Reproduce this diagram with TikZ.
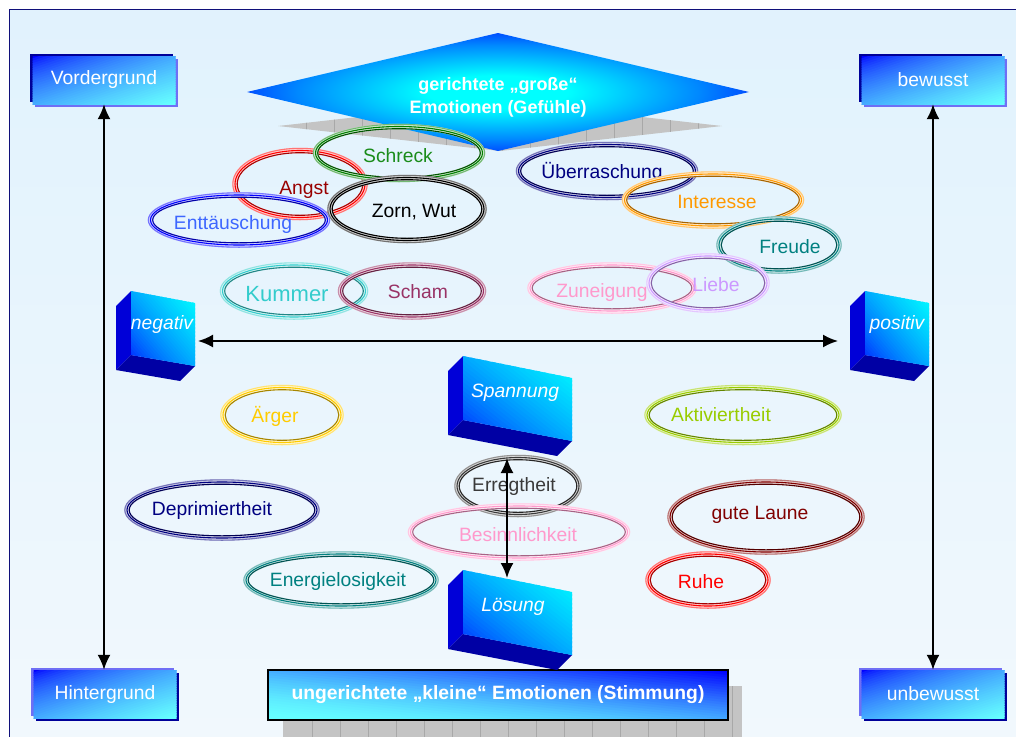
\documentclass[tikz,border=0pt]{standalone}
\usepackage{fontspec}
\setmainfont{Liberation Sans}
\usetikzlibrary{arrows.meta}

% page and frame
\definecolor{framenavy}{HTML}{10107A}
\definecolor{bgtop}{HTML}{E1F2FD}
\definecolor{bgbot}{HTML}{F1F8FD}
% boxes and blocks
\definecolor{boxblue}{HTML}{0000FF}
\definecolor{boxcyan}{HTML}{66FFFF}
\definecolor{blockcyan}{HTML}{00FFFF}
\definecolor{shadenavy}{HTML}{000099}
\definecolor{shadelilac}{HTML}{6F6FF5}
\definecolor{cubeleft}{HTML}{0000D8}
\definecolor{cubebottom}{HTML}{0000A4}
\definecolor{glowmid}{HTML}{0088FF}
\definecolor{texgray}{HTML}{C4C4C4}
\definecolor{texline}{HTML}{A8A8A8}
% emotion colours
\definecolor{cred}{HTML}{FF0000}
\definecolor{cdarkred}{HTML}{990000}
\definecolor{cgreen}{HTML}{008000}
\definecolor{cgreentxt}{HTML}{1A8C1A}
\definecolor{cblue}{HTML}{0000FF}
\definecolor{cbluetxt}{HTML}{3D66FF}
\definecolor{cnavy}{HTML}{000080}
\definecolor{corange}{HTML}{FF9900}
\definecolor{cteal}{HTML}{008080}
\definecolor{clilac}{HTML}{CC99FF}
\definecolor{cpink}{HTML}{FF99CC}
\definecolor{cturq}{HTML}{33CCCC}
\definecolor{cplum}{HTML}{993366}
\definecolor{cgold}{HTML}{FFCC00}
\definecolor{clime}{HTML}{99CC00}
\definecolor{cmaroon}{HTML}{800000}
\definecolor{cgraydark}{HTML}{3A3A3A}

\pgfdeclareradialshading{diamondglow}{\pgfpoint{0bp}{0bp}}{%
  color(0bp)=(cyan); color(7bp)=(cyan); color(20bp)=(glowmid);
  color(32bp)=(blue); color(50bp)=(blue)}

% diagonal colour ramp inside the current clip:
% corner x, corner y, width, height (signed), start colour, end colour, ramp exponent
\newcommand{\diaggrad}[7]{%
  \foreach \k in {0,...,39}{%
    \pgfmathsetmacro\gs{2*\k/40}%
    \pgfmathsetmacro\ge{2*(\k+1.5)/40}%
    \pgfmathsetmacro\gp{100*(\k/39)^(#7)}%
    \pgfmathsetmacro\gxa{#1+\gs*(#3)}%
    \pgfmathsetmacro\gxb{#1+\ge*(#3)}%
    \pgfmathsetmacro\gya{#2+\gs*(#4)}%
    \pgfmathsetmacro\gyb{#2+\ge*(#4)}%
    \fill[#6!\gp!#5] (\gxa,#2) -- (\gxb,#2) -- (#1,\gyb) -- (#1,\gya) -- cycle;}}

% triple ring around an emotion: centre x, centre y, x radius, y radius, colour
\newcommand{\emoring}[5]{%
  \draw[#5!18!white, line width=5.4pt] (#1,#2) ellipse [x radius=#3, y radius=#4];
  \draw[#5!55!white, line width=1.1pt] (#1,#2) ellipse [x radius=#3+2.2, y radius=#4+2.2];
  \draw[#5, line width=1.1pt] (#1,#2) ellipse [x radius=#3, y radius=#4];
  \draw[#5!65!black, line width=1.1pt] (#1,#2) ellipse [x radius=#3-2.2, y radius=#4-2.2];}

% corner box: centre x, centre y, upper-left plate colour, lower-right plate colour
\newcommand{\cornerback}[4]{%
  \fill[#3] (#1-74,#2-26.5) rectangle (#1+69,#2+21.5);
  \fill[#4] (#1-69,#2-21.5) rectangle (#1+74,#2+26.5);
  \begin{scope}
    \clip (#1-71.5,#2-24) rectangle (#1+71.5,#2+24);
    \diaggrad{#1-71.5}{#2-24}{143}{48}{boxblue}{boxcyan}{0.6}
  \end{scope}}

% slanted block: front top-left corner x, y, front width, drop of the top edge
\newcommand{\emocube}[4]{%
  \fill[cubeleft] (#1,#2) -- (#1,#2+64) -- (#1-15,#2+79) -- (#1-15,#2+15) -- cycle;
  \fill[cubebottom] (#1,#2+64) -- (#1+#3,#2+#4+63) -- (#1+#3-15,#2+#4+78) -- (#1-15,#2+79) -- cycle;
  \begin{scope}
    \clip (#1,#2) -- (#1+#3,#2+#4) -- (#1+#3,#2+#4+63) -- (#1,#2+64) -- cycle;
    \diaggrad{#1}{#2+#4+64}{#3}{-#4-64}{boxblue}{blockcyan}{0.6}
  \end{scope}}

\begin{document}
\begin{tikzpicture}[x=1pt,y=-1pt,
  every node/.style={inner sep=0pt, font=\fontsize{19.3}{23}\selectfont},
  corner/.style={minimum width=143pt, minimum height=48pt, text=white},
  cubelabel/.style={text=white, font=\itshape\fontsize{19.3}{23}\selectfont},
  dar/.style={{Latex[length=15pt,width=13pt]}-{Latex[length=15pt,width=13pt]}, line width=2pt},
]
\useasboundingbox (0,0) rectangle (1016,736);
\fill[white] (0,0) rectangle (1016,736);

% frame with a soft vertical ramp
\foreach \k in {0,...,24}{%
  \pgfmathsetmacro\gp{100*\k/24}%
  \fill[bgbot!\gp!bgtop] (9.5,9.5+\k*29.5) rectangle (1030,9.5+\k*29.5+31);}
\draw[framenavy, line width=1.6pt] (9.5,9.5) rectangle (1030,750);

% grey tiled plate under the diamond
\begin{scope}
  \clip (278,126) -- (500,101) -- (722,126) -- (500,151) -- cycle;
  \fill[texgray] (270,95) rectangle (730,155);
  \foreach \x in {306,334,...,720} \draw[texline, line width=0.5pt] (\x,95) -- (\x,155);
\end{scope}

% diamond for the directed emotions
\shade[shading=diamondglow] (247,92) -- (498,33) -- (749,92) -- (498,151) -- cycle;
\node[text=white, align=center, font=\bfseries\fontsize{18}{23}\selectfont] (gross) at (498,97)
  {gerichtete „große“\\Emotionen (Gefühle)};

% grey tiled plate under the bottom box
\fill[texgray] (283,686) rectangle (742,740);
\foreach \x in {312,340,...,735} \draw[texline, line width=0.5pt] (\x,686) -- (\x,740);

% bottom box for the undirected emotions
\begin{scope}
  \clip (268,670) rectangle (728,720);
  \diaggrad{268}{720}{460}{-50}{boxcyan}{boxblue}{1.6}
\end{scope}
\node[draw=black, line width=2pt, minimum width=460pt, minimum height=50pt, text=white,
  font=\bfseries\fontsize{19.3}{23}\selectfont] (klein) at (498,695)
  {ungerichtete „kleine“ Emotionen (Stimmung)};

% corner boxes
\cornerback{104}{80}{shadenavy}{shadelilac}
\node[corner] (vg) at (104,80) {Vordergrund};
\cornerback{933}{80}{shadenavy}{shadelilac}
\node[corner] (bw) at (933,80) {bewusst};
\cornerback{105}{694}{shadelilac}{shadenavy}
\node[corner] (hg) at (105,694) {Hintergrund};
\cornerback{933}{694}{shadelilac}{shadenavy}
\node[corner] (ub) at (933,694) {unbewusst};

% blocks
\emocube{131}{291}{64}{12}
\node[cubelabel] (neg) at (162,325) {negativ};
\emocube{865}{291}{64}{12}
\node[cubelabel] (pos) at (897,325) {positiv};
\emocube{463}{356}{109}{22}
\node[cubelabel] (span) at (515,393) {Spannung};
\emocube{463}{570}{109}{22}
\node[cubelabel] (loes) at (513,607) {Lösung};

% upper left emotions
\emoring{300}{184}{65}{33.5}{cred}
\node[text=cdarkred] (angst) at (304,190) {Angst};
\emoring{399}{153}{83.5}{26.5}{cgreen}
\node[text=cgreentxt] (schreck) at (398,156) {Schreck};
\emoring{239}{220}{88.5}{25}{cblue}
\node[text=cbluetxt] (ent) at (233,225) {Enttäuschung};
\emoring{407}{209}{77}{31.5}{black}
\node[text=black] (zorn) at (414,212) {Zorn, Wut};
\emoring{294}{291}{71.5}{26}{cturq}
\node[text=cturq, font=\fontsize{22}{26}\selectfont] (kummer) at (287,294) {Kummer};
\emoring{412}{291}{71.5}{26}{cplum}
\node[text=cplum] (scham) at (418,292) {Scham};

% upper right emotions
\emoring{607}{171}{88.5}{26.5}{cnavy}
\node[text=cnavy] (ueber) at (602,172) {Überraschung};
\emoring{713}{200}{88.5}{26}{corange}
\node[text=corange] (inter) at (717,202) {Interesse};
\emoring{779}{245}{60}{26}{cteal}
\node[text=cteal] (freude) at (790,247) {Freude};
\emoring{612}{288}{82}{23}{cpink}
\node[text=cpink] (zun) at (602,293) {Zuneigung};
\emoring{708}{283}{59}{27}{clilac}
\node[text=clilac] (liebe) at (716,285) {Liebe};

% lower emotions
\emoring{282}{415}{59}{27.5}{cgold}
\node[text=cgold] (aerger) at (275,416) {Ärger};
\emoring{222}{510}{95}{28}{cnavy}
\node[text=cnavy] (depr) at (212,511) {Deprimiertheit};
\emoring{341}{580}{95}{26}{cteal}
\node[text=cteal] (energ) at (338,582) {Energielosigkeit};
\emoring{743}{415}{96}{27.5}{clime}
\node[text=clime] (akt) at (721,415) {Aktiviertheit};
\emoring{766}{517}{96}{35}{cmaroon}
\node[text=cmaroon] (laune) at (760,515) {gute Laune};
\emoring{708}{580}{60}{26}{cred}
\node[text=cred] (ruhe) at (701,582) {Ruhe};
\emoring{518}{486}{61}{28.5}{cgraydark}
\node[text=cgraydark] (erreg) at (514,487) {Erregtheit};
\emoring{519}{532}{108.5}{26}{cpink}
\node[text=cpink] (besinn) at (518,535) {Besinnlichkeit};

% axes
\coordinate (negend) at (198,341);
\coordinate (posend) at (838,341);
\coordinate (spanend) at (507,458);
\coordinate (loesend) at (507,578);
\draw[dar] (vg.south) -- (hg.north -| vg.south);
\draw[dar] (bw.south) -- (ub.north);
\draw[dar] (negend) -- (posend);
\draw[dar] (spanend) -- (loesend);
\end{tikzpicture}
\end{document}
